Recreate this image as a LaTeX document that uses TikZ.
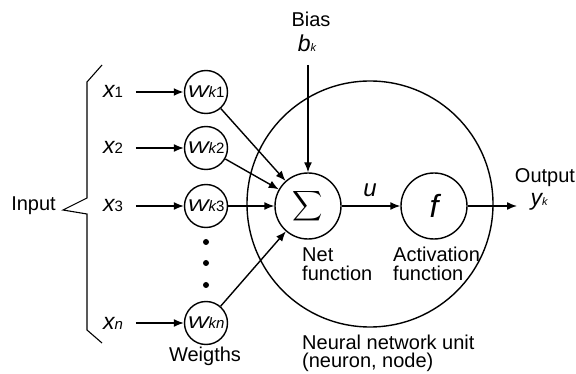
\documentclass[tikz,border=0pt]{standalone}
\usepackage{fontspec}
\setmainfont{Liberation Sans}
\usetikzlibrary{arrows.meta}
\newcommand\xsub[1]{{\fontsize{15}{15}\selectfont #1}}
\newcommand\wlab[1]{\scalebox{1.3}[1]{\fontsize{17}{17}\selectfont\itshape W}{\fontsize{15}{15}\selectfont\itshape k\upshape #1}}
\begin{document}
\begin{tikzpicture}[x=1pt,y=-1pt,
  lab/.style={font=\fontsize{20}{18}\selectfont, inner sep=0},
  xlab/.style={font=\fontsize{23}{23}\selectfont\itshape, inner sep=0, outer xsep=13pt},
  wnode/.style={circle, draw, line width=1.4pt, minimum size=43pt, inner sep=0},
  fnode/.style={circle, draw, line width=1.4pt, minimum size=66pt, inner sep=0},
  arr/.style={-{Latex[length=10pt,width=8pt]}, line width=1.4pt},
  dotn/.style={circle, fill, minimum size=6pt, inner sep=0}]
\useasboundingbox (0,0) rectangle (576,374);
% big unit circle
\node[circle, draw, line width=1.4pt, minimum size=246pt, inner sep=0] (unit) at (370,204) {};
% brace and input
\node[lab, anchor=base] (input) at (33.5,211) {Input};
\draw[line width=1.1pt] (102,65) -- (87,82) -- (87,198) -- (63,210) -- (87,214) -- (87,330) -- (102,343);
% x labels
\node[xlab, anchor=base] (x1) at (113,98) {x\xsub{\upshape 1}};
\node[xlab, anchor=base] (x2) at (113,154) {x\xsub{\upshape 2}};
\node[xlab, anchor=base] (x3) at (113,212) {x\xsub{\upshape 3}};
\node[xlab, anchor=base] (xn) at (113,329) {x\xsub{n}};
% weight nodes
\node[wnode] (w1) at (206,92) {\wlab{1}};
\node[wnode] (w2) at (206,148) {\wlab{2}};
\node[wnode] (w3) at (206,206) {\wlab{3}};
\node[wnode] (wn) at (206,323) {\wlab{\itshape n}};
\node[dotn] (d1) at (206,242) {};
\node[dotn] (d2) at (206,263) {};
\node[dotn] (d3) at (206,285) {};
\node[lab, anchor=base] (weig) at (205,361) {Weigths};
% sum and activation
\node[fnode] (sig) at (308,206) {\scalebox{2.1}{$\displaystyle\sum$}};
\node[fnode] (act) at (434,206) {\fontsize{32}{32}\selectfont\itshape f};
\node[font=\fontsize{24}{24}\selectfont\itshape, inner sep=0, anchor=base] (u) at (370,197) {u};
% bias
\node[lab, anchor=base] (bias) at (311,27) {Bias};
\node[inner sep=0, anchor=base] (bk) at (307,52) {\fontsize{23}{23}\selectfont\itshape b\fontsize{11}{11}\selectfont k};
\coordinate (btop) at (308,65);
% output
\node[lab, anchor=base] (outl) at (545,183) {Output};
\node[inner sep=0, anchor=base] (yk) at (539,206) {\fontsize{23}{23}\selectfont\itshape y\fontsize{11}{11}\selectfont k};
\coordinate (oend) at (517,206);
% labels under nodes (base = last line)
\node[lab, align=left, anchor=base west] (netf) at (302,280) {Net\\function};
\node[lab, align=left, anchor=base west] (actf) at (393,280) {Activation\\function};
\node[lab, align=left, anchor=base west] (unitl) at (302,367) {Neural network unit\\(neuron, node)};
% connectors
\draw[arr, line width=2.4pt] (x1.east |- w1) -- (w1);
\draw[arr] (x2.east |- w2) -- (w2);
\draw[arr] (x3.east |- w3) -- (w3);
\draw[arr] (xn.east |- wn) -- (wn);
\draw[arr] (w1) -- (sig);
\draw[arr] (w2) -- (sig);
\draw[arr] (w3) -- (sig);
\draw[arr] (wn) -- (sig);
\draw[arr] (btop) -- (sig);
\draw[arr] (sig) -- (act);
\draw[arr] (act) -- (oend);
\end{tikzpicture}
\end{document}
